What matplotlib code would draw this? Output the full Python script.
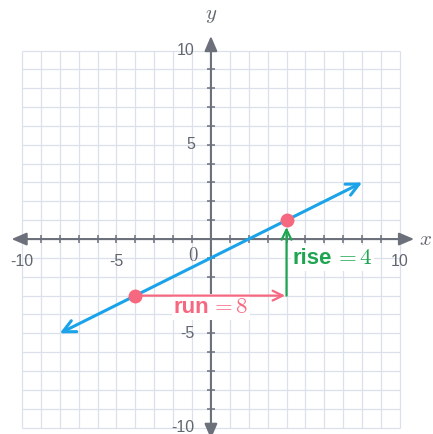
import matplotlib
matplotlib.use("Agg")
import matplotlib.pyplot as plt
from matplotlib.offsetbox import TextArea, HPacker, AnnotationBbox

plt.rcParams['mathtext.fontset'] = 'cm'

# ---- data ----
grid_vals = list(range(-10, 11))
tick_vals = [v for v in range(-10, 11) if v != 0]
x_tick_labels = {-10: "-10", -5: "-5", 10: "10"}
y_tick_labels = {10: "10", 5: "5", -5: "-5", -10: "-10"}
line_x = [-8, 8]
line_y = [-5, 3]
point_x = [-4, 4]
point_y = [-3, 1]
run_value = 8
rise_value = 4

# ---- style ----
GRID = '#dce0ea'
AXIS = '#6b707b'
LABEL = '#62676f'
BLUE = '#1aa3e8'
PINK = '#f6687f'
GREEN = '#1fa552'
SANS = 'Liberation Sans'

fig = plt.figure(figsize=(4.33, 4.34), dpi=100)
ax = fig.add_axes([0, 0, 1, 1])
ax.set_xlim(-11.16, 11.75)
ax.set_ylim(-10.34, 12.68)
ax.axis('off')

# grid
for v in grid_vals:
    ax.plot([v, v], [-10, 10], color=GRID, lw=0.9, zorder=1, solid_capstyle='butt')
    ax.plot([-10, 10], [v, v], color=GRID, lw=0.9, zorder=1, solid_capstyle='butt')

# axes with arrows
ax.annotate('', xy=(10.75, 0), xytext=(-10.55, 0),
            arrowprops=dict(arrowstyle='<|-|>,head_length=0.75,head_width=0.32',
                            mutation_scale=12, color=AXIS, lw=1.5,
                            shrinkA=0, shrinkB=0), zorder=3)
ax.annotate('', xy=(0, 10.77), xytext=(0, -10.6),
            arrowprops=dict(arrowstyle='<|-|>,head_length=0.75,head_width=0.32',
                            mutation_scale=12, color=AXIS, lw=1.5,
                            shrinkA=0, shrinkB=0), zorder=3)
ax.plot(tick_vals, [0] * len(tick_vals), linestyle='none', marker='|',
        markersize=6, mew=1.1, color=AXIS, zorder=3)
ax.plot([0] * len(tick_vals), tick_vals, linestyle='none', marker='_',
        markersize=6, mew=1.1, color=AXIS, zorder=3)

# tick labels
for v, s in x_tick_labels.items():
    ax.text(v, -1.17, s, ha='center', va='center', fontsize=11.5,
            color=LABEL, family=SANS, zorder=4)
for v, s in y_tick_labels.items():
    ax.text(-0.85, v, s, ha='right', va='center', fontsize=11.5,
            color=LABEL, family=SANS, zorder=4)
ax.text(-0.95, -0.85, r'$0$', ha='center', va='center', fontsize=13.5,
        color=LABEL, zorder=4)

# axis names
ax.text(11.35, 0.0, r'$x$', ha='center', va='center', fontsize=15, color=LABEL)
ax.text(0.0, 11.9, r'$y$', ha='center', va='center', fontsize=15, color=LABEL)

# the line
ax.annotate('', xy=(line_x[1], line_y[1]), xytext=(line_x[0], line_y[0]),
            arrowprops=dict(arrowstyle='<->,head_length=0.45,head_width=0.22',
                            mutation_scale=20, color=BLUE, lw=2.2,
                            shrinkA=0, shrinkB=0), zorder=5)

# run arrow
ax.annotate('', xy=(point_x[1], point_y[0]), xytext=(point_x[0], point_y[0]),
            arrowprops=dict(arrowstyle='->,head_length=0.45,head_width=0.22',
                            mutation_scale=16, color=PINK, lw=1.6,
                            shrinkA=0, shrinkB=1), zorder=5)
# rise arrow
ax.annotate('', xy=(point_x[1], point_y[1]), xytext=(point_x[1], point_y[0]),
            arrowprops=dict(arrowstyle='->,head_length=0.45,head_width=0.22',
                            mutation_scale=16, color=GREEN, lw=1.6,
                            shrinkA=0, shrinkB=5), zorder=5)

# points
ax.plot(point_x, point_y, linestyle='none', marker='o', markersize=9,
        color=PINK, zorder=6)


def make_label(word, value, color):
    t1 = TextArea(word, textprops=dict(color=color, fontsize=16,
                                       fontweight='bold', family=SANS))
    t2 = TextArea(r'$=%d$' % value, textprops=dict(color=color, fontsize=16.5))
    return HPacker(children=[t1, t2], align='baseline', pad=0, sep=1)


run_box = AnnotationBbox(make_label('run', run_value, PINK), (0.0, -3.6),
                         xycoords='data', box_alignment=(0.5, 0.5),
                         frameon=True, pad=0.12,
                         bboxprops=dict(facecolor='white', edgecolor='none'))
run_box.set_zorder(4.5)
ax.add_artist(run_box)

rise_box = AnnotationBbox(make_label('rise', rise_value, GREEN), (4.33, -1.0),
                          xycoords='data', box_alignment=(0.0, 0.5),
                          frameon=True, pad=0.12,
                          bboxprops=dict(facecolor='white', edgecolor='none'))
rise_box.set_zorder(4.5)
ax.add_artist(rise_box)

fig.savefig('out.png', dpi=100)
